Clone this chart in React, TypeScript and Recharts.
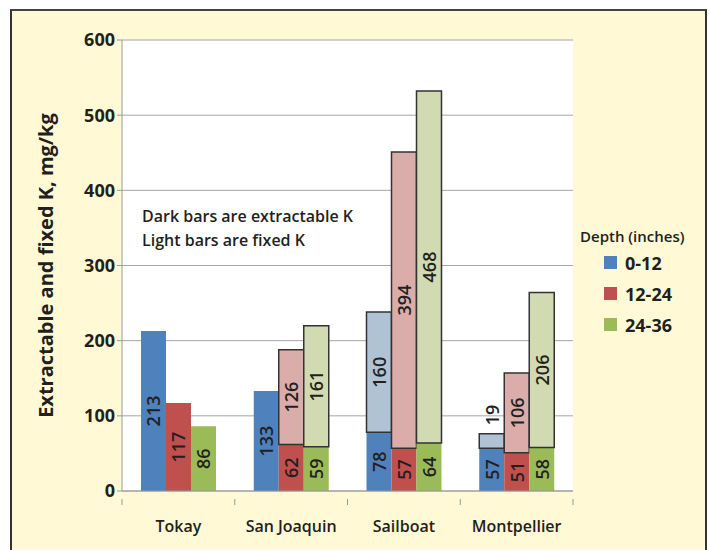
import React from 'react';
import { BarChart, Bar, XAxis, YAxis, CartesianGrid, LabelList } from 'recharts';

const categories = ['Tokay', 'San Joaquin', 'Sailboat', 'Montpellier'];
const depths = ['0-12', '12-24', '24-36'];

// extractable K (dark bars)
const extractable0to12 = [213, 133, 78, 57];
const extractable12to24 = [117, 62, 57, 51];
const extractable24to36 = [86, 59, 64, 58];

// fixed K (light bars), Tokay has none
const fixed0to12 = [null, null, 160, 19];
const fixed12to24 = [null, 126, 394, 106];
const fixed24to36 = [null, 161, 468, 206];

const yTicks = [0, 100, 200, 300, 400, 500, 600];

const data = categories.map((name, i) => ({
  name,
  e1: extractable0to12[i],
  e2: extractable12to24[i],
  e3: extractable24to36[i],
  f1: fixed0to12[i],
  f2: fixed12to24[i],
  f3: fixed24to36[i],
}));

const darkColors = ['#4F81BD', '#C0504D', '#9BBB59'];
const lightColors = ['#AFC3D5', '#DBADAA', '#D1DAB0'];

const FONT = '"Open Sans", Lato, sans-serif';
const TEXT = '#231F20';

const BarValue = (props: any) => {
  const { x, y, width, height, value } = props;
  if (value == null || value === 0) return null;
  const cx = x + width / 2;
  // too small to hold the number, put it above
  const cy = height < 20 ? y - 19 : y + height / 2;
  return (
    <text
      x={cx}
      y={cy}
      transform={`rotate(-90, ${cx}, ${cy})`}
      textAnchor="middle"
      dominantBaseline="central"
      fontSize={18}
      fontWeight={600}
      fill={TEXT}
      fontFamily={FONT}
    >
      {value}
    </text>
  );
};

const CategoryTick = (props: any) => {
  const { x, y, payload, index } = props;
  const off = payload.offset ?? 451 / 8;
  return (
    <g>
      <line x1={x - off} x2={x - off} y1={y} y2={y + 6} stroke="#999" />
      {index === categories.length - 1 && (
        <line x1={x + off} x2={x + off} y1={y} y2={y + 6} stroke="#999" />
      )}
      <text x={x} y={y + 33} textAnchor="middle" fontSize={16} fontWeight={600} fill={TEXT} fontFamily={FONT}>
        {payload.value}
      </text>
    </g>
  );
};

export default function App() {
  return (
    <div style={{ position: 'absolute', left: 0, top: 0, width: 709, height: 550, background: '#fff', overflow: 'hidden' }}>
      <div
        style={{
          position: 'absolute',
          left: 10,
          top: 9,
          width: 693,
          height: 560,
          background: '#FFFAD5',
          borderLeft: '2px solid #333',
          borderRight: '2px solid #333',
          borderTop: '2px solid #444',
        }}
      />
      <div style={{ position: 'absolute', left: 0, top: 0 }}>
        <BarChart
          width={709}
          height={550}
          data={data}
          margin={{ top: 40, right: 136, bottom: 0, left: 0 }}
          barSize={25}
          barGap={0}
        >
          <CartesianGrid vertical={false} stroke="#A6A6A6" fill="#fff" />
          <XAxis
            dataKey="name"
            tickLine={false}
            axisLine={{ stroke: '#999' }}
            tick={<CategoryTick />}
            interval={0}
            height={59}
          />
          <YAxis
            domain={[0, 600]}
            ticks={yTicks}
            width={122}
            tickSize={5}
            tickLine={{ stroke: '#999' }}
            axisLine={{ stroke: '#999' }}
            tick={{ fontSize: 18, fontWeight: 700, fill: TEXT, fontFamily: FONT }}
            label={{
              value: 'Extractable and fixed K, mg/kg',
              angle: -90,
              position: 'insideLeft',
              offset: 46,
              style: { textAnchor: 'middle', fontSize: 20, fontWeight: 700, fill: TEXT, fontFamily: FONT },
            }}
          />
          <Bar dataKey="e1" stackId="a" fill={darkColors[0]} isAnimationActive={false}>
            <LabelList dataKey="e1" content={<BarValue />} />
          </Bar>
          <Bar dataKey="f1" stackId="a" fill={lightColors[0]} stroke="#333" strokeWidth={1.5} isAnimationActive={false}>
            <LabelList dataKey="f1" content={<BarValue />} />
          </Bar>
          <Bar dataKey="e2" stackId="b" fill={darkColors[1]} isAnimationActive={false}>
            <LabelList dataKey="e2" content={<BarValue />} />
          </Bar>
          <Bar dataKey="f2" stackId="b" fill={lightColors[1]} stroke="#333" strokeWidth={1.5} isAnimationActive={false}>
            <LabelList dataKey="f2" content={<BarValue />} />
          </Bar>
          <Bar dataKey="e3" stackId="c" fill={darkColors[2]} isAnimationActive={false}>
            <LabelList dataKey="e3" content={<BarValue />} />
          </Bar>
          <Bar dataKey="f3" stackId="c" fill={lightColors[2]} stroke="#333" strokeWidth={1.5} isAnimationActive={false}>
            <LabelList dataKey="f3" content={<BarValue />} />
          </Bar>
        </BarChart>
      </div>
      <div style={{ position: 'absolute', left: 580, top: 226, fontFamily: FONT, color: TEXT, fontWeight: 600 }}>
        <div style={{ fontSize: 15, marginBottom: 1 }}>Depth (inches)</div>
        {depths.map((d, i) => (
          <div key={d} style={{ display: 'flex', alignItems: 'center', height: 31, paddingLeft: 24 }}>
            <div style={{ width: 13, height: 13, background: darkColors[i], marginRight: 8 }} />
            <span style={{ fontSize: 18, fontWeight: 700 }}>{d}</span>
          </div>
        ))}
      </div>
      <div
        style={{
          position: 'absolute',
          left: 142,
          top: 204,
          fontFamily: FONT,
          fontSize: 16,
          fontWeight: 600,
          color: TEXT,
          lineHeight: '24px',
        }}
      >
        <div>Dark bars are extractable K</div>
        <div>Light bars are fixed K</div>
      </div>
    </div>
  );
}
